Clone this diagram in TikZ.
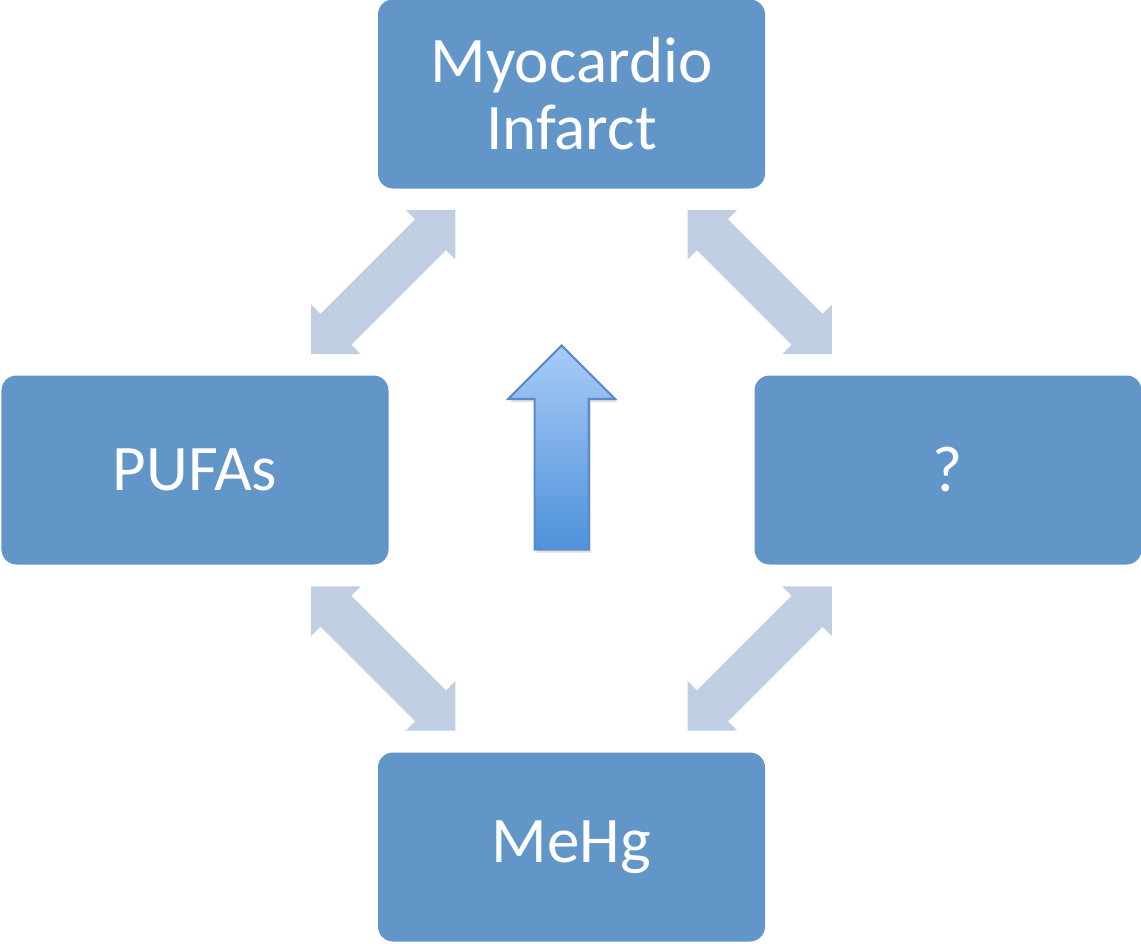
\documentclass[tikz,border=0pt]{standalone}
\usepackage{fontspec}
\setmainfont{Carlito}
\usetikzlibrary{shapes.arrows,calc,shadows}
\definecolor{boxblue}{RGB}{98,150,201}
\definecolor{linkblue}{RGB}{192,206,228}
\definecolor{upedge}{RGB}{91,140,200}
\definecolor{uptop}{RGB}{168,203,247}
\definecolor{upbottom}{RGB}{78,146,218}
\begin{document}
\begin{tikzpicture}[
  every node/.style={font=\fontsize{18.5}{19}\selectfont},
  box/.style={
    fill=boxblue,
    text=white,
    rounded corners=0.15cm,
    align=center,
    minimum width=3.87cm,
    minimum height=1.89cm
  },
  link/.style={
    double arrow,
    fill=linkblue,
    inner xsep=0pt,
    inner ysep=0.212cm,
    minimum height=2.04cm,
    minimum width=0.688cm,
    double arrow head extend=0.132cm,
    double arrow tip angle=90
  },
  uparrow/.style={
    single arrow,
    draw=upedge,
    line width=0.6pt,
    top color=uptop,
    bottom color=upbottom,
    inner xsep=0pt,
    inner ysep=0.26cm,
    minimum height=2.04cm,
    minimum width=1.05cm,
    single arrow head extend=0.265cm,
    single arrow tip angle=90,
    drop shadow={opacity=0.25,shadow xshift=0.02cm,shadow yshift=-0.03cm}
  }
]
\useasboundingbox (0,0) rectangle (11.41,9.43);
\node[box] (infarct) at (5.715,8.49) {Myocardio\\Infarct};
\node[box] (pufas) at (1.95,4.73) {PUFAs};
\node[box] (unknown) at (9.48,4.73) {?};
\node[box] (mehg) at (5.715,0.96) {MeHg};
% links between the boxes
\node[link, rotate=45] (infpuf) at ($(infarct.south west)!0.5!(pufas.north east)$) {};
\node[link, rotate=-45] (infunk) at ($(infarct.south east)!0.5!(unknown.north west)$) {};
\node[link, rotate=-45] (pufmeh) at ($(pufas.south east)!0.5!(mehg.north west)$) {};
\node[link, rotate=45] (unkmeh) at ($(unknown.south west)!0.5!(mehg.north east)$) {};
% rising arrow in the middle
\node[uparrow, rotate=90, anchor=tip] (rise) at (5.617,5.99) {};
\end{tikzpicture}
\end{document}
